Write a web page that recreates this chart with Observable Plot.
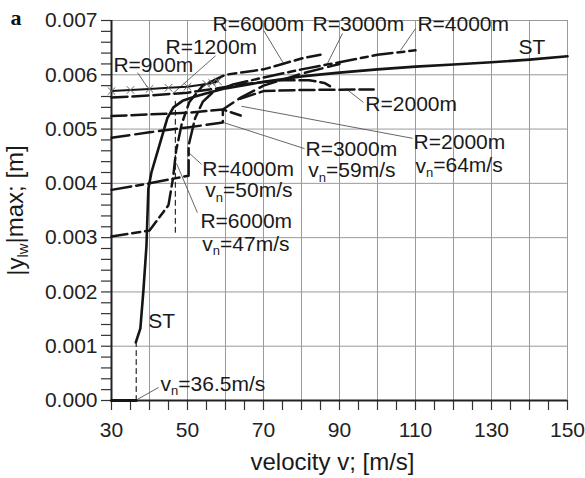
<!DOCTYPE html>
<html><head><meta charset="utf-8">
<script src="https://cdn.jsdelivr.net/npm/d3@7"></script>
<script src="https://cdn.jsdelivr.net/npm/@observablehq/plot@0.6"></script>
<style>
body{margin:0;background:#fff;}
#chart{width:585px;height:478px;}
</style></head><body><div id="chart"></div>
<script>
// ---- tick values ----
const xMinorTicks = [30,35,40,45,50,55,60,65,70,75,80,85,90,95,100,105,110,115,120,125,130,135,140,145,150];
const xGrid = [30,40,50,60,70,80,90,100,110,120,130,140,150];
const xLabels = [30,50,70,90,110,130,150];
const yMinorTicks = [0,0.0002,0.0004,0.0006,0.0008,0.001,0.0012,0.0014,0.0016,0.0018,0.002,0.0022,0.0024,0.0026,0.0028,0.003,0.0032,0.0034,0.0036,0.0038,0.004,0.0042,0.0044,0.0046,0.0048,0.005,0.0052,0.0054,0.0056,0.0058,0.006,0.0062,0.0064,0.0066,0.0068,0.007];
const yLabels = [0,0.001,0.002,0.003,0.004,0.005,0.006,0.007];

// ---- series ----
const stZeroV = [30, 36.5];
const stZeroY = [0, 0];
const stV = [36.4,37.6,38.4,39.2,39.7,40.5,42.6,44.7,46.3,48.7,52,56,60,70,80,90,100,110,120,130,140,150];
const stY = [0.00107,0.00133,0.00203,0.00285,0.0039,0.0042,0.0047,0.0052,0.0054,0.00552,0.0056,0.00568,0.00575,0.00587,0.00597,0.00604,0.0061,0.00615,0.00619,0.00623,0.00628,0.00634];

const r900V = [30,35,40,45,50,55,56.5,58];
const r900Y = [0.0057,0.00572,0.00574,0.00576,0.00578,0.00583,0.00585,0.00588];

const r1200V = [30,40,50,58,65,75,82,86,87.5];
const r1200Y = [0.00558,0.00562,0.00567,0.00575,0.00583,0.0059,0.0059,0.00585,0.00579];

const r2000LowV = [30,40,50,59.3,64];
const r2000LowY = [0.00524,0.00527,0.0053,0.00536,0.00525];
const r2000UpV = [64,70,80,99];
const r2000UpY = [0.00556,0.0057,0.00572,0.00573];

const r3000V = [30,40,50,59.3,59.3,64,70,80,90];
const r3000Y = [0.00484,0.00494,0.00503,0.00512,0.00536,0.00558,0.0058,0.00602,0.0062];

const r4000V = [30,40,50.3,50.3,52,54,57,62,70,80,90,100,110];
const r4000Y = [0.00388,0.004,0.00414,0.0047,0.0052,0.0055,0.0057,0.00582,0.00595,0.0061,0.00623,0.00637,0.00645];

const r6000V = [30,40,45,46.2,47,48.5,50.5,54,60,70,75,80,85];
const r6000Y = [0.00302,0.00313,0.0036,0.0041,0.0046,0.0051,0.0055,0.0058,0.006,0.0061,0.0062,0.0063,0.00637];

// thin dashed jump lines
const jumpV1 = [36.5,36.5];  const jumpY1 = [0,0.00105];
const jumpV2 = [46.8,46.8];  const jumpY2 = [0.0031,0.00555];

// ---- annotations ----
const labelText = ["R=900m","R=1200m","R=6000m","R=3000m","R=4000m","ST","R=2000m","R=2000m","v_{n}=64m/s","R=3000m","v_{n}=59m/s","R=4000m","v_{n}=50m/s","R=6000m","v_{n}=47m/s","ST","v_{n}=36.5m/s"];
const labelV = [30.5,44.2,56.6,82.9,110.5,137.1,96.8,109.5,110,81.05,81.8,53.9,54.7,53.4,53.9,39.7,42.9];
const labelY = [0.00606,0.00639,0.0068,0.0068,0.0068,0.00639,0.00534,0.00464,0.0042,0.00451,0.00411,0.00414,0.00374,0.00317,0.00276,0.00133,0.00018];

const leadV1 = [36.84,57.37,70,90.79,110,96.3,64.2,59.5,50.26,47.1,36.8];
const leadY1 = [0.00604,0.00635,0.00682,0.00676,0.00685,0.00549,0.00542,0.00512,0.00457,0.00437,0.00002];
const leadV2 = [39.47,46.05,75.26,86.84,106.05,91.6,109.2,80.8,53.7,52.6,42.4];
const leadY2 = [0.00577,0.00565,0.00621,0.00621,0.00645,0.00575,0.00483,0.00464,0.00435,0.00346,0.00024];

const xTitle = "velocity v; [m/s]";
const yTitle = "|y_{lw}|max; [m]";
const panelTag = "a";

// ---- build ----
const pts = (V, Y) => V.map((v, i) => ({v, y: Y[i]}));
const ink = "#151515";
const line = (V, Y, dash, w = 2.5) =>
  Plot.line(pts(V, Y), {x: "v", y: "y", stroke: ink, strokeWidth: w, strokeDasharray: dash, curve: "linear"});

const labels = labelText.map((t, i) => ({t, v: labelV[i], y: labelY[i]}));
const leaders = leadV1.map((v, i) => ({x1: v, y1: leadY1[i], x2: leadV2[i], y2: leadY2[i]}));

const chart = Plot.plot({
  width: 585, height: 478,
  marginLeft: 111, marginRight: 18, marginTop: 20, marginBottom: 78,
  style: {fontFamily: "'Liberation Sans', Arial, sans-serif", background: "#fff", color: "#222"},
  x: {domain: [30, 150], axis: null},
  y: {domain: [0, 0.007], axis: null},
  marks: [
    Plot.gridX(xGrid, {stroke: "#9a9a9a", strokeOpacity: 1, strokeWidth: 1}),
    Plot.gridY(yLabels, {stroke: "#9a9a9a", strokeOpacity: 1, strokeWidth: 1}),
    Plot.axisX(xMinorTicks, {tickSize: 10, tickFormat: () => "", stroke: "#333", strokeWidth: 1.2, label: null}),
    Plot.axisX(xLabels, {tickSize: 0, tickPadding: 22, tickFormat: d => String(d), fontSize: 21, fill: "#222", label: null}),
    Plot.axisY(yMinorTicks, {tickSize: 10, tickFormat: () => "", stroke: "#333", strokeWidth: 1.2, label: null}),
    Plot.axisY(yLabels, {tickSize: 0, tickPadding: 14, tickFormat: d3.format(".3f"), fontSize: 21, fill: "#222", label: null}),
    Plot.ruleX([30], {stroke: "#222", strokeWidth: 2}),
    Plot.ruleY([0], {stroke: "#222", strokeWidth: 2}),
    Plot.link(leaders, {x1: "x1", y1: "y1", x2: "x2", y2: "y2", stroke: "#555", strokeWidth: 0.9}),
    line(jumpV1, jumpY1, "5,4", 1.1),
    line(jumpV2, jumpY2, "5,4", 1.1),
    line(r6000V, r6000Y, "16,5,8,5"),
    line(r4000V, r4000Y, "20,5,7,5"),
    line(r3000V, r3000Y, "18,6"),
    line(r2000LowV, r2000LowY, "15,5"),
    line(r2000UpV, r2000UpY, "15,5"),
    line(r1200V, r1200Y, "16,5"),
    line(r900V, r900Y, null, 2),
    Plot.dot(pts(r900V, r900Y), {x: "v", y: "y", symbol: "times", r: 3.5, stroke: "#666", strokeWidth: 1}),
    line(stZeroV, stZeroY, null, 3.2),
    line(stV, stY, null, 2.6),
    Plot.text(labels, {x: "v", y: "y", text: "t", textAnchor: "start", lineAnchor: "bottom", fontSize: 21, fill: "#1a1a1a"}),
    Plot.text([xTitle], {frameAnchor: "bottom", dx: -7, dy: 69, lineAnchor: "bottom", fontSize: 24, fill: "#1a1a1a"}),
    Plot.text([yTitle], {frameAnchor: "left", dx: -88, rotate: -90, lineAnchor: "bottom", textAnchor: "middle", fontSize: 24, fill: "#1a1a1a"}),
    Plot.text([panelTag], {frameAnchor: "top-left", dx: -101, dy: 4, lineAnchor: "bottom", textAnchor: "start", fontSize: 22, fontWeight: "bold", fontFamily: "'Liberation Serif', 'DejaVu Serif', serif", fill: "#111"})
  ]
});

// subscripts: turn "a_{b}c" into tspans
d3.select(chart).selectAll("text").each(function() {
  const t = this.textContent;
  const m = t.match(/^(.*?)_\{(.*?)\}(.*)$/);
  if (!m) return;
  this.textContent = "";
  const s = d3.select(this);
  s.append("tspan").text(m[1]);
  s.append("tspan").attr("dy", "0.32em").attr("font-size", "0.62em").text(m[2]);
  s.append("tspan").attr("dy", "-0.2em").text(m[3]);
});

document.getElementById("chart").appendChild(chart);
</script>
</body></html>
